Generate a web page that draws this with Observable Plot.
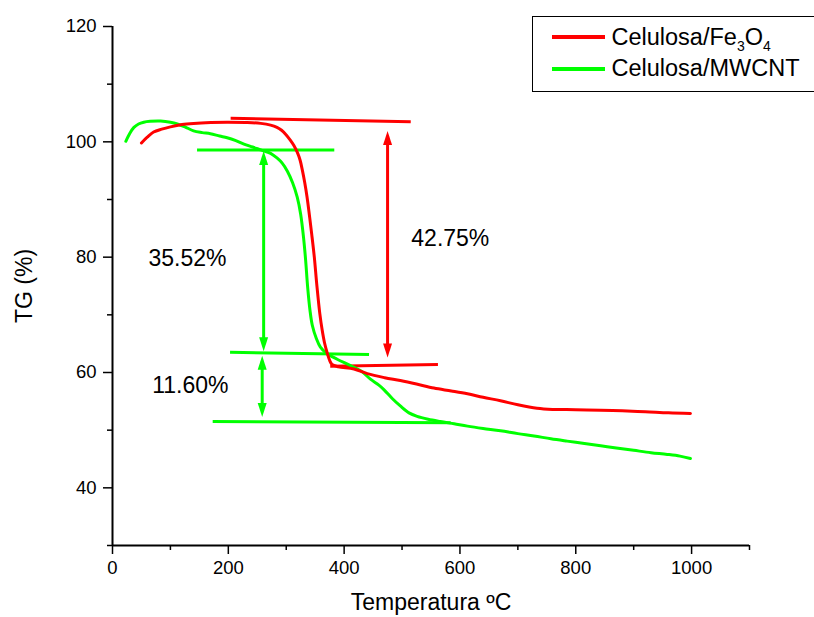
<!DOCTYPE html>
<html><head><meta charset="utf-8">
<script src="https://cdn.jsdelivr.net/npm/d3@7"></script>
<script src="https://cdn.jsdelivr.net/npm/@observablehq/plot@0.6"></script>
<style>
html,body{margin:0;padding:0;background:#fff;overflow:hidden;}
#wrap{position:relative;width:814px;height:617px;font-family:"Liberation Sans",Arial,sans-serif;overflow:hidden;}
#legend{position:absolute;left:532px;top:16px;width:300px;height:76px;border:1.5px solid #000;box-sizing:border-box;background:#fff;}
.sw{position:absolute;left:18.5px;width:53px;height:3.5px;}
.lab{position:absolute;left:78.5px;font-size:23.5px;white-space:nowrap;line-height:1;color:#000;}
.lab sub{font-size:14px;}
</style></head>
<body>
<div id="wrap"></div>
<script>
// ---- data ----
const seriesNames = ["Celulosa/Fe3O4", "Celulosa/MWCNT"];

const tempFe = [50,60,71,85,100,120,140,170,198,230,256,273,284,292,300,307,313,319,324,328,332,336,340,344,348.5,353,358,362,366,371,375,379,390,417,440,470,497,525,555,585,613,640,670,700,733,760,800,843,880,920,960,998];
const tgFe   = [99.8,100.8,101.7,102.2,102.6,103.0,103.2,103.35,103.4,103.35,103.2,102.9,102.5,102.0,101.2,100.3,99.4,98.2,96.8,95.0,92.9,90.4,87.3,84.0,80.0,75.0,70.2,67.4,65.2,63.3,62.1,61.4,61.0,60.6,59.8,59.1,58.6,58.0,57.3,56.8,56.3,55.7,55.1,54.4,53.8,53.6,53.55,53.45,53.35,53.2,53.0,52.9];

const tempCnt = [23,30,37,45,54,65,83,100,112,125,140,155,169,185,198,213,227,242,256,273,284,293,302,311,319,325,330,333.5,337,341,345,352,359,370,388,411,430,446,460,469,483,497,512,526,545,566,590,613,640,670,700,728,757,785,815,843,870,900,930,958,980,998];
const tgCnt   = [100.1,101.5,102.5,103.1,103.4,103.55,103.6,103.4,103.1,102.6,101.9,101.6,101.4,101.0,100.7,100.2,99.6,99.1,98.6,98.0,97.2,96.3,94.9,92.9,90.4,87.4,83.3,79.5,74.8,70.8,68.2,65.9,64.4,63.3,62.3,61.2,60.2,58.8,57.8,57.0,55.5,54.2,53.0,52.4,51.9,51.5,51.1,50.7,50.3,49.9,49.4,49.0,48.5,48.1,47.7,47.3,46.9,46.5,46.1,45.8,45.5,45.1];

// horizontal guide lines (tangents)
const guideSeries = ["Celulosa/Fe3O4","Celulosa/Fe3O4","Celulosa/MWCNT","Celulosa/MWCNT","Celulosa/MWCNT"];
const guideX1 = [204, 376, 146, 203, 173];
const guideY1 = [104.1, 61.1, 98.6, 63.5, 51.5];
const guideX2 = [515, 562, 383, 443, 584];
const guideY2 = [103.5, 61.4, 98.6, 63.1, 51.3];

// double-headed arrows
const arrowSeries = ["Celulosa/Fe3O4","Celulosa/MWCNT","Celulosa/MWCNT"];
const arrowX      = [475, 261, 258.5];
const arrowTop    = [101.9, 98.4, 62.9];
const arrowBottom = [62.6, 63.7, 52.3];

// percentage labels
const labelText = ["35.52%", "42.75%", "11.60%"];
const labelX = [62, 516, 68.5];
const labelY = [79.7, 83.3, 57.8];

// axes
const xTicks = [0, 200, 400, 600, 800, 1000];
const xMinor = [100, 300, 500, 700, 900, 1100];
const yTicks = [40, 60, 80, 100, 120];
const yMinor = [30, 50, 70, 90, 110];

// ---- build ----
const colorOf = {"Celulosa/Fe3O4": "#ff0000", "Celulosa/MWCNT": "#00ff00"};
const fe  = tempFe.map((t, i) => ({t, tg: tgFe[i]}));
const cnt = tempCnt.map((t, i) => ({t, tg: tgCnt[i]}));
const guides = guideSeries.map((s, i) => ({s, x1: guideX1[i], y1: guideY1[i], x2: guideX2[i], y2: guideY2[i]}));
const arrows = arrowSeries.map((s, i) => ({s, x: arrowX[i], top: arrowTop[i], bottom: arrowBottom[i]}));
const labels = labelText.map((text, i) => ({text, x: labelX[i], y: labelY[i]}));

const upHead = {draw(ctx){ ctx.moveTo(0,0); ctx.lineTo(4.5,14); ctx.lineTo(-4.5,14); ctx.closePath(); }};
const downHead = {draw(ctx){ ctx.moveTo(0,0); ctx.lineTo(4.5,-14); ctx.lineTo(-4.5,-14); ctx.closePath(); }};
const fmt = d => String(d);

const marks = [
  Plot.axisX({ticks: xMinor, tickSize: 5, tickFormat: () => "", label: null, strokeWidth: 1.5}),
  Plot.axisX({ticks: xTicks, tickSize: 9, tickPadding: 6, fontSize: 18.5, tickFormat: fmt, label: null, strokeWidth: 1.5}),
  Plot.axisY({ticks: yMinor, tickSize: 5, tickFormat: () => "", label: null, strokeWidth: 1.5}),
  Plot.axisY({ticks: yTicks, tickSize: 9, tickPadding: 7, fontSize: 18.5, tickFormat: fmt, label: null, strokeWidth: 1.5}),
  Plot.ruleX([0], {strokeWidth: 2}),
  Plot.ruleY([30], {strokeWidth: 2}),
  Plot.text(["TG (%)"], {frameAnchor: "left", rotate: -90, dx: -88, fontSize: 23, textAnchor: "middle", lineAnchor: "middle"}),
  Plot.text(["Temperatura ºC"], {frameAnchor: "bottom", dy: 57.5, fontSize: 23, textAnchor: "middle", lineAnchor: "middle"})
];
for (const s of seriesNames) {
  const c = colorOf[s];
  marks.push(Plot.link(guides.filter(d => d.s === s), {x1: "x1", y1: "y1", x2: "x2", y2: "y2", stroke: c, strokeWidth: 3}));
  marks.push(Plot.ruleX(arrows.filter(d => d.s === s), {x: "x", y1: "top", y2: "bottom", stroke: c, strokeWidth: 3, insetTop: 6, insetBottom: 6}));
  marks.push(Plot.dot(arrows.filter(d => d.s === s), {x: "x", y: "top", symbol: upHead, fill: c}));
  marks.push(Plot.dot(arrows.filter(d => d.s === s), {x: "x", y: "bottom", symbol: downHead, fill: c}));
}
marks.push(Plot.line(cnt, {x: "t", y: "tg", stroke: colorOf["Celulosa/MWCNT"], strokeWidth: 3, curve: "catmull-rom"}));
marks.push(Plot.line(fe, {x: "t", y: "tg", stroke: colorOf["Celulosa/Fe3O4"], strokeWidth: 3, curve: "catmull-rom"}));
marks.push(Plot.text(labels, {x: "x", y: "y", text: "text", textAnchor: "start", lineAnchor: "middle", fontSize: 23}));

const chart = Plot.plot({
  width: 814, height: 617,
  marginLeft: 112, marginRight: 65, marginTop: 26, marginBottom: 72,
  style: {fontFamily: "'Liberation Sans', Arial, sans-serif", background: "#fff", color: "#000"},
  x: {domain: [0, 1100]},
  y: {domain: [30, 120]},
  marks
});
const wrap = document.getElementById("wrap");
wrap.appendChild(chart);

// legend (inside plot area, top right)
const legend = document.createElement("div");
legend.id = "legend";
const rows = [
  {name: seriesNames[0], html: "Celulosa/Fe<sub>3</sub>O<sub>4</sub>", lineTop: 18.45, textTop: 8.7},
  {name: seriesNames[1], html: "Celulosa/MWCNT", lineTop: 50, textTop: 40.4}
];
for (const r of rows) {
  const sw = document.createElement("div");
  sw.className = "sw"; sw.style.top = r.lineTop + "px"; sw.style.background = colorOf[r.name];
  const lab = document.createElement("div");
  lab.className = "lab"; lab.style.top = r.textTop + "px"; lab.innerHTML = r.html;
  legend.appendChild(sw); legend.appendChild(lab);
}
wrap.appendChild(legend);
</script>
</body></html>
